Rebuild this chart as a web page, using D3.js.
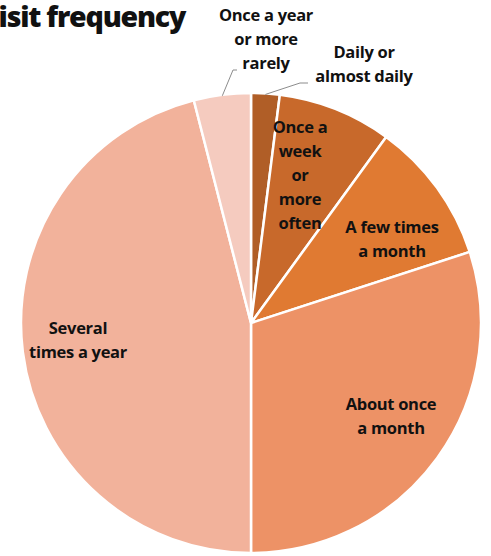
<!DOCTYPE html>
<html>
<head>
<meta charset="utf-8">
<script src="https://cdn.jsdelivr.net/npm/d3@7.9.0/dist/d3.min.js"></script>
<style>
  body { margin: 0; background: #fff; }
  svg text { font-family: "Open Sans", Lato, sans-serif; font-weight: 700; fill: #111; }
</style>
</head>
<body>
<svg id="chart" width="491" height="556"></svg>
<script>
// slices, clockwise from 12 o'clock
const categories = ['Daily or almost daily', 'Once a week or more often', 'A few times a month',
  'About once a month', 'Several times a year', 'Once a year or more rarely'];
const shares = [2, 8, 10, 30, 46, 4];
const colors = ['#b05e27', '#c8692b', '#e07a32', '#ed9266', '#f2b29b', '#f5cbbf'];
// label lines as printed
const labelLines = [
  ['Daily or', 'almost daily'],
  ['Once a', 'week', 'or', 'more', 'often'],
  ['A few times', 'a month'],
  ['About once', 'a month'],
  ['Several', 'times a year'],
  ['Once a year', 'or more', 'rarely']
];

const svg = d3.select('#chart');
const cx = 251, cy = 323, r = 230;

svg.append('text')
  .attr('x', -20).attr('y', 27)
  .style('font-size', '28.5px')
  .style('font-weight', 800)
  .style('letter-spacing', '-1.2px')
  .text('Visit frequency');

const pie = d3.pie().sort(null).value(d => d)(shares);
const arc = d3.arc().innerRadius(0).outerRadius(r);

const g = svg.append('g').attr('transform', `translate(${cx},${cy})`);

g.selectAll('path')
  .data(pie)
  .join('path')
  .attr('d', arc)
  .attr('fill', (d, i) => colors[i])
  .attr('stroke', '#fff')
  .attr('stroke-width', 2.5)
  .attr('stroke-linejoin', 'round');

// label anchor points (centre of the text block) relative to the pie centre
const labelPos = [
  { x: 113, y: -259 },
  { x: 49, y: -148 },
  { x: 141, y: -84 },
  { x: 140, y: 93 },
  { x: -173, y: 17 },
  { x: 15, y: -284 }
];
const lineH = 24;

labelPos.forEach((p, i) => {
  const lines = labelLines[i];
  const top = p.y - (lines.length - 1) * lineH / 2;
  const t = g.append('text')
    .attr('text-anchor', 'middle')
    .style('font-size', '16.5px')
    .style('letter-spacing', '-0.3px');
  lines.forEach((ln, j) => {
    t.append('tspan')
      .attr('x', p.x)
      .attr('y', top + j * lineH + 6)
      .text(ln);
  });
});

// leader lines for the two small slices
const leader = d3.line();
function leaderFor(i, elbow, end) {
  const a = (pie[i].startAngle + pie[i].endAngle) / 2;
  const start = [Math.sin(a) * (r - 1), -Math.cos(a) * (r - 1)];
  g.append('path')
    .attr('d', leader([start, elbow, end]))
    .attr('fill', 'none')
    .attr('stroke', '#8c8c8c')
    .attr('stroke-width', 1);
}
leaderFor(0, [49, -240], [57, -240]);
leaderFor(5, [-18, -253], [-14, -253]);
</script>
</body>
</html>
